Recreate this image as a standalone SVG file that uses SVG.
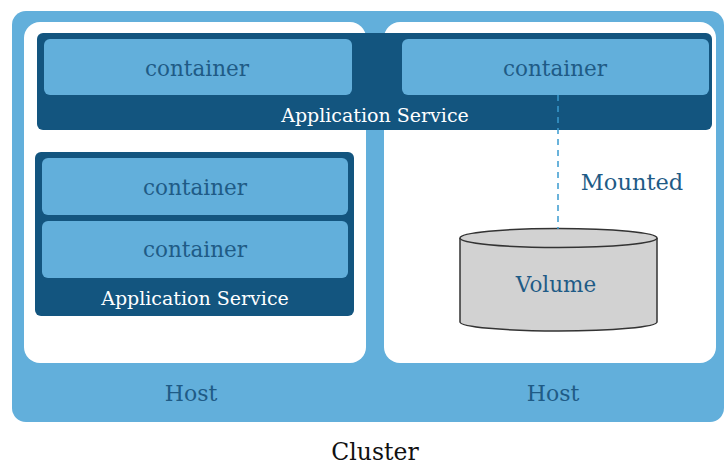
<svg xmlns="http://www.w3.org/2000/svg" width="724" height="466" viewBox="0 0 724 466">
<style>
.host{fill:#ffffff}
.svc{fill:#13557f}
.ctr{fill:#62afdb}
text{font-family:'DejaVu Serif','Liberation Serif',serif;text-anchor:middle}
.ct{font-size:21.5px;fill:#1f5b86}
.st{font-size:19px;fill:#ffffff}
.ht{font-size:22px;fill:#1f5b86}
</style>
<rect width="724" height="466" fill="#ffffff"/>
<g id="cluster">
<rect x="12" y="11" width="712" height="411" rx="14" fill="#62afdb"/>
<text x="375" y="460" font-size="23.5" fill="#111">Cluster</text>
</g>
<g id="host-left">
<rect class="host" x="24" y="22" width="342" height="341" rx="16"/>
<text class="ht" x="191" y="401">Host</text>
</g>
<g id="host-right">
<rect class="host" x="384" y="22" width="332" height="341" rx="16"/>
<text class="ht" x="553" y="401">Host</text>
</g>
<g id="service-top">
<rect class="svc" x="37" y="33" width="675" height="97" rx="6"/>
<text class="st" x="375" y="122">Application Service</text>
</g>
<g id="container-top-left">
<rect class="ctr" x="44" y="39" width="308" height="56" rx="6"/>
<text class="ct" x="197" y="76">container</text>
</g>
<g id="container-top-right">
<rect class="ctr" x="402" y="39" width="307" height="56" rx="6"/>
<text class="ct" x="555" y="76">container</text>
</g>
<g id="service-left">
<rect class="svc" x="35" y="152" width="319" height="164" rx="6"/>
<text class="st" x="195" y="305">Application Service</text>
</g>
<g id="container-left-1">
<rect class="ctr" x="42" y="158" width="306" height="57" rx="6"/>
<text class="ct" x="195" y="195">container</text>
</g>
<g id="container-left-2">
<rect class="ctr" x="42" y="221" width="306" height="57" rx="6"/>
<text class="ct" x="195" y="257">container</text>
</g>
<g id="volume">
<path d="M460 238 L460 322 A98.5 9 0 0 0 657 322 L657 238" fill="#d2d2d2" stroke="#333" stroke-width="1.5"/>
<ellipse cx="558.5" cy="238" rx="98.5" ry="9.5" fill="#d2d2d2" stroke="#333" stroke-width="1.5"/>
<text class="ct" x="556" y="292" font-size="23">Volume</text>
</g>
<g id="connectors">
<line x1="558" y1="95" x2="558" y2="229" stroke="#3a9ad0" stroke-width="1.5" stroke-dasharray="6,5"/>
<text x="632" y="190" font-size="22.5" fill="#1f5b86">Mounted</text>
</g>
</svg>
